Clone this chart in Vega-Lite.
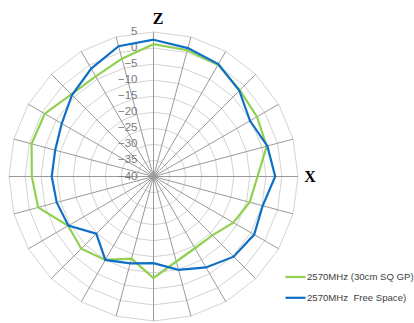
{
  "$schema": "https://vega.github.io/schema/vega-lite/v6.json",
  "width": 289,
  "height": 289,
  "autosize": "none",
  "padding": {"left": 9, "top": 32, "right": 116, "bottom": 2},
  "background": "white",
  "config": {"view": {"stroke": null}, "font": "Liberation Sans"},
  "datasets": {
    "pattern": [
      {"series": "2570MHz (30cm SQ GP)", "angle": 0, "value": 1.2},
      {"series": "2570MHz (30cm SQ GP)", "angle": 15, "value": 0.7},
      {"series": "2570MHz (30cm SQ GP)", "angle": 30, "value": 0.2},
      {"series": "2570MHz (30cm SQ GP)", "angle": 45, "value": -2.0},
      {"series": "2570MHz (30cm SQ GP)", "angle": 60, "value": -2.8},
      {"series": "2570MHz (30cm SQ GP)", "angle": 75, "value": -3.5},
      {"series": "2570MHz (30cm SQ GP)", "angle": 90, "value": -7.6},
      {"series": "2570MHz (30cm SQ GP)", "angle": 105, "value": -9.0},
      {"series": "2570MHz (30cm SQ GP)", "angle": 120, "value": -11.3},
      {"series": "2570MHz (30cm SQ GP)", "angle": 135, "value": -14.1},
      {"series": "2570MHz (30cm SQ GP)", "angle": 150, "value": -14.2},
      {"series": "2570MHz (30cm SQ GP)", "angle": 165, "value": -12.6},
      {"series": "2570MHz (30cm SQ GP)", "angle": 180, "value": -8.4},
      {"series": "2570MHz (30cm SQ GP)", "angle": 195, "value": -13.5},
      {"series": "2570MHz (30cm SQ GP)", "angle": 210, "value": -10.0},
      {"series": "2570MHz (30cm SQ GP)", "angle": 225, "value": -8.2},
      {"series": "2570MHz (30cm SQ GP)", "angle": 240, "value": -9.3},
      {"series": "2570MHz (30cm SQ GP)", "angle": 255, "value": -2.8},
      {"series": "2570MHz (30cm SQ GP)", "angle": 270, "value": -2.1},
      {"series": "2570MHz (30cm SQ GP)", "angle": 285, "value": -0.7},
      {"series": "2570MHz (30cm SQ GP)", "angle": 300, "value": -0.9},
      {"series": "2570MHz (30cm SQ GP)", "angle": 315, "value": -3.8},
      {"series": "2570MHz (30cm SQ GP)", "angle": 330, "value": -4.0},
      {"series": "2570MHz (30cm SQ GP)", "angle": 345, "value": -2.0},
      {"series": "2570MHz\u00a0 Free Space)", "angle": 0, "value": 2.6},
      {"series": "2570MHz\u00a0 Free Space)", "angle": 15, "value": 1.4},
      {"series": "2570MHz\u00a0 Free Space)", "angle": 30, "value": 0.4},
      {"series": "2570MHz\u00a0 Free Space)", "angle": 45, "value": -2.2},
      {"series": "2570MHz\u00a0 Free Space)", "angle": 60, "value": -5.3},
      {"series": "2570MHz\u00a0 Free Space)", "angle": 75, "value": -3.3},
      {"series": "2570MHz\u00a0 Free Space)", "angle": 90, "value": -2.1},
      {"series": "2570MHz\u00a0 Free Space)", "angle": 105, "value": -4.8},
      {"series": "2570MHz\u00a0 Free Space)", "angle": 120, "value": -3.8},
      {"series": "2570MHz\u00a0 Free Space)", "angle": 135, "value": -4.7},
      {"series": "2570MHz\u00a0 Free Space)", "angle": 150, "value": -7.3},
      {"series": "2570MHz\u00a0 Free Space)", "angle": 165, "value": -9.9},
      {"series": "2570MHz\u00a0 Free Space)", "angle": 180, "value": -13.0},
      {"series": "2570MHz\u00a0 Free Space)", "angle": 195, "value": -12.0},
      {"series": "2570MHz\u00a0 Free Space)", "angle": 210, "value": -10.0},
      {"series": "2570MHz\u00a0 Free Space)", "angle": 225, "value": -14.8},
      {"series": "2570MHz\u00a0 Free Space)", "angle": 240, "value": -9.4},
      {"series": "2570MHz\u00a0 Free Space)", "angle": 255, "value": -8.8},
      {"series": "2570MHz\u00a0 Free Space)", "angle": 270, "value": -8.3},
      {"series": "2570MHz\u00a0 Free Space)", "angle": 285, "value": -8.3},
      {"series": "2570MHz\u00a0 Free Space)", "angle": 300, "value": -7.0},
      {"series": "2570MHz\u00a0 Free Space)", "angle": 315, "value": -4.1},
      {"series": "2570MHz\u00a0 Free Space)", "angle": 330, "value": -1.2},
      {"series": "2570MHz\u00a0 Free Space)", "angle": 345, "value": 2.0}
    ],
    "rings": [
      {"level": -35, "a": [0,15,30,45,60,75,90,105,120,135,150,165,180,195,210,225,240,255,270,285,300,315,330,345]},
      {"level": -30, "a": [0,15,30,45,60,75,90,105,120,135,150,165,180,195,210,225,240,255,270,285,300,315,330,345]},
      {"level": -25, "a": [0,15,30,45,60,75,90,105,120,135,150,165,180,195,210,225,240,255,270,285,300,315,330,345]},
      {"level": -20, "a": [0,15,30,45,60,75,90,105,120,135,150,165,180,195,210,225,240,255,270,285,300,315,330,345]},
      {"level": -15, "a": [0,15,30,45,60,75,90,105,120,135,150,165,180,195,210,225,240,255,270,285,300,315,330,345]},
      {"level": -10, "a": [0,15,30,45,60,75,90,105,120,135,150,165,180,195,210,225,240,255,270,285,300,315,330,345]},
      {"level": -5, "a": [0,15,30,45,60,75,90,105,120,135,150,165,180,195,210,225,240,255,270,285,300,315,330,345]},
      {"level": 0, "a": [0,15,30,45,60,75,90,105,120,135,150,165,180,195,210,225,240,255,270,285,300,315,330,345]},
      {"level": 5, "a": [0,15,30,45,60,75,90,105,120,135,150,165,180,195,210,225,240,255,270,285,300,315,330,345]}
    ],
    "spokes": [
      {"a": 0}, {"a": 15}, {"a": 30}, {"a": 45}, {"a": 60}, {"a": 75},
      {"a": 90}, {"a": 105}, {"a": 120}, {"a": 135}, {"a": 150}, {"a": 165},
      {"a": 180}, {"a": 195}, {"a": 210}, {"a": 225}, {"a": 240}, {"a": 255},
      {"a": 270}, {"a": 285}, {"a": 300}, {"a": 315}, {"a": 330}, {"a": 345}
    ],
    "levels": [
      {"level": -40}, {"level": -35}, {"level": -30}, {"level": -25}, {"level": -20},
      {"level": -15}, {"level": -10}, {"level": -5}, {"level": 0}, {"level": 5}
    ],
    "axisnames": [
      {"name": "Z", "a": 0},
      {"name": "X", "a": 90}
    ]
  },
  "layer": [
    {
      "data": {"name": "rings"},
      "transform": [
        {"flatten": ["a"]},
        {"calculate": "(datum.level + 40) * sin(datum.a * PI / 180)", "as": "x"},
        {"calculate": "(datum.level + 40) * cos(datum.a * PI / 180)", "as": "y"}
      ],
      "mark": {"type": "line", "interpolate": "linear-closed", "color": "#d3d3d3", "strokeWidth": 1},
      "encoding": {
        "x": {"field": "x", "type": "quantitative", "scale": {"domain": [-45, 45], "nice": false, "zero": false}, "axis": null},
        "y": {"field": "y", "type": "quantitative", "scale": {"domain": [-45, 45], "nice": false, "zero": false}, "axis": null},
        "detail": {"field": "level", "type": "nominal"},
        "order": {"field": "a", "type": "quantitative"}
      }
    },
    {
      "data": {"name": "spokes"},
      "transform": [
        {"calculate": "0", "as": "cx"},
        {"calculate": "45 * sin(datum.a * PI / 180)", "as": "ex"},
        {"calculate": "45 * cos(datum.a * PI / 180)", "as": "ey"}
      ],
      "mark": {"type": "rule", "color": "#9a9a9a", "strokeWidth": 1},
      "encoding": {
        "x": {"field": "cx", "type": "quantitative", "scale": {"domain": [-45, 45], "nice": false, "zero": false}, "axis": null},
        "y": {"field": "cx", "type": "quantitative", "scale": {"domain": [-45, 45], "nice": false, "zero": false}, "axis": null},
        "x2": {"field": "ex"},
        "y2": {"field": "ey"}
      }
    },
    {
      "data": {"name": "levels"},
      "transform": [
        {"calculate": "0", "as": "cx"},
        {"calculate": "datum.level + 40", "as": "r"}
      ],
      "mark": {"type": "text", "align": "right", "baseline": "middle", "dx": -16, "fontSize": 11.5, "color": "#7a7a7a", "font": "Liberation Sans"},
      "encoding": {
        "x": {"field": "cx", "type": "quantitative", "scale": {"domain": [-45, 45], "nice": false, "zero": false}, "axis": null},
        "y": {"field": "r", "type": "quantitative", "scale": {"domain": [-45, 45], "nice": false, "zero": false}, "axis": null},
        "text": {"field": "level", "type": "quantitative", "format": "d"}
      }
    },
    {
      "data": {"name": "pattern"},
      "transform": [
        {"calculate": "datum.value + 40", "as": "r"},
        {"calculate": "datum.r * sin(datum.angle * PI / 180)", "as": "x"},
        {"calculate": "datum.r * cos(datum.angle * PI / 180)", "as": "y"}
      ],
      "mark": {"type": "line", "interpolate": "linear-closed", "strokeWidth": 2.2},
      "encoding": {
        "x": {"field": "x", "type": "quantitative", "scale": {"domain": [-45, 45], "nice": false, "zero": false}, "axis": null},
        "y": {"field": "y", "type": "quantitative", "scale": {"domain": [-45, 45], "nice": false, "zero": false}, "axis": null},
        "order": {"field": "angle", "type": "quantitative"},
        "color": {
          "field": "series",
          "type": "nominal",
          "scale": {"domain": ["2570MHz (30cm SQ GP)", "2570MHz\u00a0 Free Space)"], "range": ["#8fd14f", "#0f6fc6"]},
          "legend": {
            "orient": "none",
            "legendX": 275,
            "legendY": 233.5,
            "title": null,
            "symbolType": "stroke",
            "symbolSize": 400,
            "symbolStrokeWidth": 2.2,
            "labelFontSize": 9.6,
            "labelFont": "Liberation Sans",
            "labelColor": "#404040",
            "labelOffset": 0,
            "labelLimit": 200,
            "rowPadding": 3.8,
            "padding": 0
          }
        }
      }
    },
    {
      "data": {"name": "axisnames"},
      "transform": [
        {"filter": "datum.name == 'Z'"},
        {"calculate": "45 * sin(datum.a * PI / 180)", "as": "ex"},
        {"calculate": "45 * cos(datum.a * PI / 180)", "as": "ey"}
      ],
      "mark": {"type": "text", "font": "Liberation Serif", "fontWeight": "bold", "fontSize": 16, "align": "center", "baseline": "middle", "color": "#000000", "dx": 4.5, "dy": -13},
      "encoding": {
        "x": {"field": "ex", "type": "quantitative", "scale": {"domain": [-45, 45], "nice": false, "zero": false}, "axis": null},
        "y": {"field": "ey", "type": "quantitative", "scale": {"domain": [-45, 45], "nice": false, "zero": false}, "axis": null},
        "text": {"field": "name", "type": "nominal"}
      }
    },
    {
      "data": {"name": "axisnames"},
      "transform": [
        {"filter": "datum.name == 'X'"},
        {"calculate": "45 * sin(datum.a * PI / 180)", "as": "ex"},
        {"calculate": "45 * cos(datum.a * PI / 180)", "as": "ey"}
      ],
      "mark": {"type": "text", "font": "Liberation Serif", "fontWeight": "bold", "fontSize": 16, "align": "center", "baseline": "middle", "color": "#000000", "dx": 12, "dy": 0.5},
      "encoding": {
        "x": {"field": "ex", "type": "quantitative", "scale": {"domain": [-45, 45], "nice": false, "zero": false}, "axis": null},
        "y": {"field": "ey", "type": "quantitative", "scale": {"domain": [-45, 45], "nice": false, "zero": false}, "axis": null},
        "text": {"field": "name", "type": "nominal"}
      }
    }
  ]
}
